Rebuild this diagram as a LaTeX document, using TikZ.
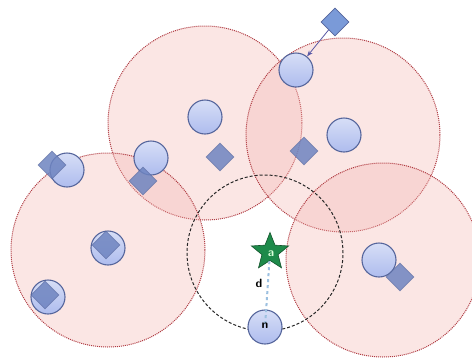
\documentclass[tikz,border=0pt]{standalone}
\usetikzlibrary{shapes.geometric,arrows.meta}
\definecolor{zonefill}{HTML}{F4B8B4}
\definecolor{zoneline}{HTML}{A82830}
\definecolor{nodefill}{HTML}{AEBCEE}
\definecolor{nodeline}{HTML}{56669C}
\definecolor{diafill}{HTML}{6E84C0}
\definecolor{diafill2}{HTML}{7A9AD8}
\definecolor{starfill}{HTML}{1E8A4A}
\definecolor{dline}{HTML}{9CC0E0}
\tikzset{
  zone/.style={circle,minimum size=194pt,inner sep=0pt,fill=zonefill,fill opacity=0.35,draw=zoneline,draw opacity=0.9,densely dotted,line width=1pt},
  rangecircle/.style={circle,minimum size=156pt,inner sep=0pt,draw=black!85,dash pattern=on 3pt off 2pt,line width=1pt},
  sensor/.style={circle,minimum size=34pt,inner sep=0pt,top color=nodefill!50,bottom color=nodefill,draw=nodeline,line width=1.1pt},
  dia/.style={diamond,minimum size=28pt,inner sep=0pt,fill=diafill,fill opacity=0.85,draw=nodeline,draw opacity=0.6,line width=0.6pt},
  diatop/.style={diamond,minimum size=28pt,inner sep=0pt,fill=diafill2,draw=nodeline,line width=0.6pt},
  starnode/.style={star,star points=5,star point ratio=2.3,minimum size=39pt,inner sep=0pt,fill=starfill,draw=starfill!60!black,line width=0.6pt},
  lbl/.style={font=\sffamily\bfseries\large}
}
\begin{document}
\begin{tikzpicture}[x=1pt,y=-1pt]
\useasboundingbox (0,0) rectangle (472,360);
\fill[white] (0,0) rectangle (472,360);
% zones
\node[zone] (z1) at (205,123) {};
\node[zone] (z2) at (343,135) {};
\node[zone] (z3) at (108,250) {};
\node[zone] (z4) at (383,260) {};
% range circle
\node[rangecircle] (r) at (265,253) {};
% sensors
\node[sensor] (s1) at (296,70) {};
\node[sensor] (s2) at (205,117) {};
\node[sensor] (s3) at (344,135) {};
\node[sensor] (s4) at (151,158) {};
\node[sensor] (s5) at (67,170) {};
\node[sensor] (s6) at (108,248) {};
\node[sensor] (s7) at (48,297) {};
\node[sensor] (s8) at (379,260) {};
\node[sensor] (n) at (265,327) {};
% diamonds
\node[diatop] (d0) at (335,22) {};
\node[dia] (d1) at (220,157) {};
\node[dia] (d2) at (304,151) {};
\node[dia] (d3) at (143,181) {};
\node[dia] (d4) at (52,165) {};
\node[dia] (d5) at (106,245) {};
\node[dia] (d6) at (45,295) {};
\node[dia] (d7) at (400,277) {};
% arrow
\draw[-{Stealth[length=6pt]},draw=gray!70!blue,line width=0.8pt] (d0) -- (s1);
% star and link
\node[starnode] (a) at (270,252) {};
\node[lbl,text=white!85!green] (al) at (271,254) {a};
\draw[dline,dashed,line width=2pt] (a) -- (n.center);
\node[lbl] (nl) at (265,326) {n};
\node[lbl] (dl) at (259,283) {d};
\end{tikzpicture}
\end{document}
